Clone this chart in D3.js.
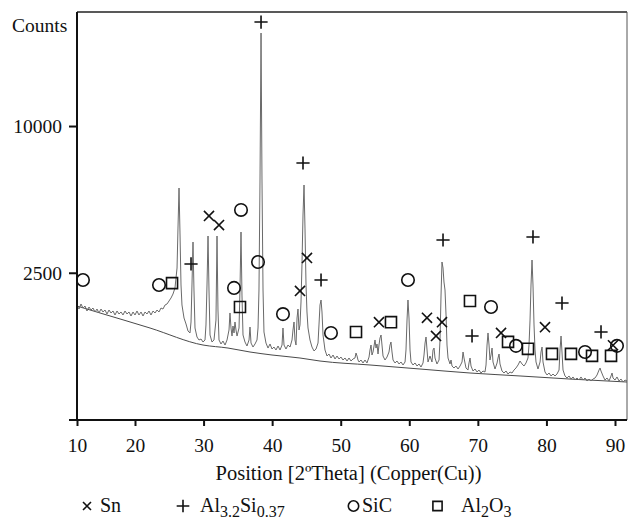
<!DOCTYPE html>
<html><head><meta charset="utf-8">
<script src="https://cdn.jsdelivr.net/npm/d3@7"></script>
<style>
body{margin:0;background:#fff}
text{font-family:"Liberation Serif","Times New Roman",serif;fill:#111}
</style>
</head><body><svg id="c" width="628" height="519"></svg>
<script>
// ---- data (2θ in degrees, intensity in counts) ----
const xTicks = [10,20,30,40,50,60,70,80,90];
const xTickLabels = ["10","20","30","40","50","60","70","80","90"];
const yTicks = [0,2500,10000];
const yTickLabels = ["","2500","10000"];

const pattern = [
[10.00,1522],[10.34,1417],[10.69,1549],[11.03,1443],[11.38,1495],[11.72,1367],[12.07,1469],[12.41,1392],[12.76,1443],[13.10,1342],
[13.45,1417],[13.79,1317],[14.14,1417],[14.48,1342],[14.83,1392],[15.17,1292],[15.52,1392],[15.86,1317],[16.21,1367],[16.55,1268],
[16.90,1367],[17.24,1292],[17.59,1342],[17.93,1268],[18.28,1367],[18.62,1292],[18.97,1342],[19.31,1244],[19.66,1342],[20.00,1268],
[20.29,1367],[20.58,1268],[20.88,1342],[21.17,1244],[21.46,1342],[21.75,1292],[22.04,1367],[22.33,1268],[22.63,1367],[22.92,1317],
[23.21,1392],[23.50,1342],[23.79,1443],[24.08,1417],[24.38,1522],[24.67,1549],[24.96,1630],[25.25,1714],[25.54,1828],[25.83,2007],
[26.13,2664],[26.27,4257],[26.42,6221],[26.56,4081],[26.71,2100],[26.85,1522],[27.15,1196],[27.44,1059],[27.73,909],[28.02,869],
[28.17,1104],[28.31,2100],[28.46,3657],[28.60,1947],[28.75,972],[29.04,790],[29.33,734],[29.63,752],[29.92,697],[30.21,734],
[30.35,1037],[30.50,2100],[30.65,3909],[30.79,1947],[30.94,829],[31.23,697],[31.52,734],[31.81,1149],[31.96,3909],[32.10,1392],
[32.25,734],[32.54,662],[32.83,715],[33.13,644],[33.42,734],[33.71,930],[33.85,1317],[34.00,972],[34.15,809],[34.29,1015],
[34.44,869],[34.58,1104],[34.73,930],[34.88,809],[35.17,972],[35.31,1947],[35.46,4081],[35.60,1799],[35.75,829],[36.04,697],
[36.33,627],[36.63,734],[36.77,993],[36.92,679],[37.21,610],[37.50,662],[37.79,734],[37.94,972],[38.08,1947],[38.23,6659],
[38.38,17342],[38.52,6659],[38.67,1947],[38.81,889],[39.10,679],[39.40,593],[39.69,662],[39.98,577],[40.27,610],[40.56,561],
[40.86,627],[41.15,561],[41.44,644],[41.58,972],[41.73,644],[42.02,577],[42.31,644],[42.61,610],[42.90,734],[43.04,930],
[43.19,1104],[43.33,734],[43.48,644],[43.63,1196],[43.77,1417],[43.92,930],[44.06,1037],[44.21,1603],[44.35,2771],[44.50,4855],
[44.65,6384],[44.79,4257],[44.94,2100],[45.08,1342],[45.23,972],[45.52,734],[45.81,610],[46.11,545],[46.40,577],[46.69,679],
[46.83,1037],[46.98,1522],[47.13,1658],[47.27,1342],[47.42,829],[47.71,561],[48.00,468],[48.29,498],[48.58,439],[48.88,483],
[49.17,425],[49.46,468],[49.75,425],[50.04,453],[50.33,411],[50.63,439],[50.92,397],[51.21,439],[51.50,397],[51.79,425],
[52.08,439],[52.23,513],[52.38,468],[52.52,411],[52.67,384],[52.96,411],[53.25,371],[53.54,411],[53.83,371],[54.13,453],
[54.27,561],[54.42,644],[54.56,483],[54.71,529],[54.86,627],[55.00,734],[55.15,593],[55.29,662],[55.44,498],[55.58,644],
[55.73,771],[55.88,829],[56.02,644],[56.17,468],[56.46,411],[56.75,453],[57.04,529],[57.19,644],[57.33,697],[57.48,529],
[57.63,411],[57.92,371],[58.21,397],[58.50,358],[58.79,384],[59.09,345],[59.38,384],[59.52,561],[59.67,1149],[59.81,1658],
[59.96,1196],[60.11,561],[60.25,384],[60.54,345],[60.84,371],[61.13,332],[61.42,358],[61.71,320],[62.00,371],[62.15,483],
[62.30,679],[62.44,790],[62.59,561],[62.73,384],[63.02,468],[63.31,384],[63.46,561],[63.61,593],[63.75,439],[64.04,358],
[64.34,411],[64.48,734],[64.63,1799],[64.77,2880],[64.92,2664],[65.06,2195],[65.21,1947],[65.36,1268],[65.50,644],[65.65,439],
[65.94,358],[66.09,411],[66.23,332],[66.52,308],[66.81,332],[67.11,296],[67.40,332],[67.69,384],[67.84,529],[67.98,439],
[68.27,308],[68.56,284],[68.71,371],[68.86,439],[69.00,332],[69.29,273],[69.59,296],[69.88,262],[70.17,284],[70.46,251],
[70.75,273],[71.04,262],[71.19,345],[71.34,644],[71.48,869],[71.63,644],[71.77,411],[71.92,483],[72.07,593],[72.21,384],
[72.50,296],[72.80,371],[72.94,439],[73.09,498],[73.23,358],[73.52,273],[73.81,251],[74.11,273],[74.40,240],[74.69,262],
[74.98,251],[75.27,284],[75.56,308],[75.86,345],[76.15,397],[76.44,358],[76.73,332],[77.02,371],[77.31,439],[77.46,644],
[77.61,1149],[77.75,2100],[77.90,2953],[78.04,2100],[78.19,1037],[78.34,561],[78.48,384],[78.77,296],[79.07,384],[79.21,529],
[79.36,610],[79.50,384],[79.79,262],[80.09,230],[80.38,251],[80.67,220],[80.96,240],[81.25,220],[81.54,240],[81.84,284],
[81.98,561],[82.13,809],[82.27,529],[82.42,284],[82.71,220],[83.00,200],[83.29,220],[83.59,190],[83.88,210],[84.17,181],
[84.46,200],[84.75,181],[85.04,210],[85.34,181],[85.63,200],[85.92,172],[86.21,190],[86.50,172],[86.79,190],[87.09,200],
[87.38,230],[87.67,284],[87.82,308],[87.96,273],[88.25,220],[88.54,181],[88.84,200],[89.13,172],[89.42,220],[89.57,251],
[89.71,200],[90.00,181],[90.29,210],[90.59,172],[90.88,190],[91.17,163],[91.46,181],[91.75,172]
];

const background = [
[10.00,1495],[13.97,1317],[22.19,972],[29.92,644],[33.56,593],[36.77,529],[39.98,483],[44.06,439],
[46.98,397],[54.27,345],[61.56,296],[68.86,251],[76.15,220],[83.44,190],[91.75,163]
];

// phase reflection markers [2θ, label height in counts]
const snMarks = [[30.79,4810],[32.25,4390],[44.06,1920],[45.08,3030],[55.58,1100],[62.58,1200],[63.90,810],[64.77,1100],[73.38,870],[79.79,990],[89.71,640]];
const alSiMarks = [[38.38,18340],[44.50,7640],[28.17,2810],[47.13,2260],[64.92,3740],[69.15,810],[78.04,3870],[82.27,1575],[87.96,890]];
const sicMarks = [[11.03,2260],[23.50,2100],[35.46,5100],[34.44,2010],[37.94,2880],[41.58,1290],[48.58,870],[59.81,2260],[71.92,1470],[75.56,630],[85.63,530],[90.29,630]];
const al2o3Marks = [[25.40,2160],[35.31,1470],[52.23,890],[57.33,1100],[68.85,1630],[74.40,700],[77.31,580],[80.81,500],[83.58,500],[86.65,470],[89.42,470]];

const legendItems = [
  {shape:"x", parts:[["Sn",false]]},
  {shape:"plus", parts:[["Al",false],["3.2",true],["Si",false],["0.37",true]]},
  {shape:"circle", parts:[["SiC",false]]},
  {shape:"square", parts:[["Al",false],["2",true],["O",false],["3",true]]}
];

// ---- drawing ----
const svg = d3.select("#c");
const L = 77, R = 627, T = 12, B = 419.5;
const x = d3.scaleLinear().domain([10,20,91.75]).range([L,135,R]);
const y = d3.scaleSqrt().domain([0,19280]).range([B,T]);

// traces
const line = d3.line().x(d=>x(d[0])).y(d=>y(d[1]));
svg.append("path").datum(background)
  .attr("d", line.curve(d3.curveMonotoneX))
  .attr("fill","none").attr("stroke","#4a4a4a").attr("stroke-width",1);
svg.append("path").datum(pattern)
  .attr("d", d3.line().x(d=>x(d[0])).y(d=>y(d[1])))
  .attr("fill","none").attr("stroke","#6a6a6a").attr("stroke-width",1);

// frame
svg.append("line").attr("x1",L).attr("x2",R).attr("y1",T).attr("y2",T).attr("stroke","#222").attr("stroke-width",1.5);
svg.append("line").attr("x1",R).attr("x2",R).attr("y1",T).attr("y2",420).attr("stroke","#555").attr("stroke-width",1);

// axes
const xAxis = svg.append("g").attr("transform","translate(0,420)")
  .call(d3.axisBottom(x).tickValues(xTicks).tickFormat((d,i)=>xTickLabels[i]).tickSize(6).tickSizeOuter(0));
const yAxis = svg.append("g").attr("transform",`translate(${L},0)`)
  .call(d3.axisLeft(y).tickValues(yTicks).tickFormat((d,i)=>yTickLabels[i]).tickSize(8).tickSizeOuter(0));
[xAxis,yAxis].forEach(g=>{
  g.select(".domain").attr("stroke","#111").attr("stroke-width",2);
  g.selectAll(".tick line").attr("stroke","#111").attr("stroke-width",2);
  g.selectAll(".tick text").attr("font-family","Liberation Serif, Times New Roman, serif").attr("font-size",19.5).attr("fill","#111");
});
xAxis.select(".domain").attr("d",`M${L},0H${R}`);
yAxis.select(".domain").attr("d",`M0,${T}V420`);
xAxis.selectAll(".tick text").attr("dy",null).attr("y",32);
yAxis.selectAll(".tick text").attr("x",-15).attr("dy","0.33em");

svg.append("text").attr("x",12).attr("y",32).attr("font-size",19.5).text("Counts");
svg.append("text").attr("x",(212+485)/2).attr("y",480).attr("text-anchor","middle").attr("font-size",20.5)
  .text("Position [2ºTheta] (Copper(Cu))");

// marker shapes
function shapePath(shape, cx, cy, s){
  if(shape==="x"){const a=s*0.42;return `M${cx-a},${cy-a}L${cx+a},${cy+a}M${cx-a},${cy+a}L${cx+a},${cy-a}`;}
  if(shape==="plus"){const a=s*0.55;return `M${cx-a},${cy}H${cx+a}M${cx},${cy-a}V${cy+a}`;}
  if(shape==="square"){const a=s*0.46;return `M${cx-a},${cy-a}H${cx+a}V${cy+a}H${cx-a}Z`;}
  if(shape==="circle"){const r=s*0.52;return `M${cx-r},${cy}A${r},${r} 0 1,0 ${cx+r},${cy}A${r},${r} 0 1,0 ${cx-r},${cy}Z`;}
}
const markerSets = [[snMarks,"x"],[alSiMarks,"plus"],[sicMarks,"circle"],[al2o3Marks,"square"]];
markerSets.forEach(([data,shape])=>{
  svg.append("g").selectAll("path").data(data).join("path")
    .attr("d",d=>shapePath(shape,x(d[0]),y(d[1]),12))
    .attr("fill","none").attr("stroke","#111").attr("stroke-width",1.6);
});

// legend
const legendX = [87,183,353.5,437.5];
const legendTextX = [100,200,362,461];
legendItems.forEach((it,i)=>{
  svg.append("path").attr("d",shapePath(it.shape,legendX[i],506,it.shape==="plus"?11.5:(it.shape==="x"?9.5:10)))
    .attr("fill","none").attr("stroke","#111").attr("stroke-width",1.6);
  const t = svg.append("text").attr("x",legendTextX[i]).attr("y",512).attr("font-size",20);
  it.parts.forEach(([s,sub])=>{
    const ts = t.append("tspan").text(s);
    if(sub) ts.attr("font-size",16).attr("dy",5); else if(t.selectAll("tspan").size()>1) ts.attr("dy",-5);
  });
});
</script></body></html>
